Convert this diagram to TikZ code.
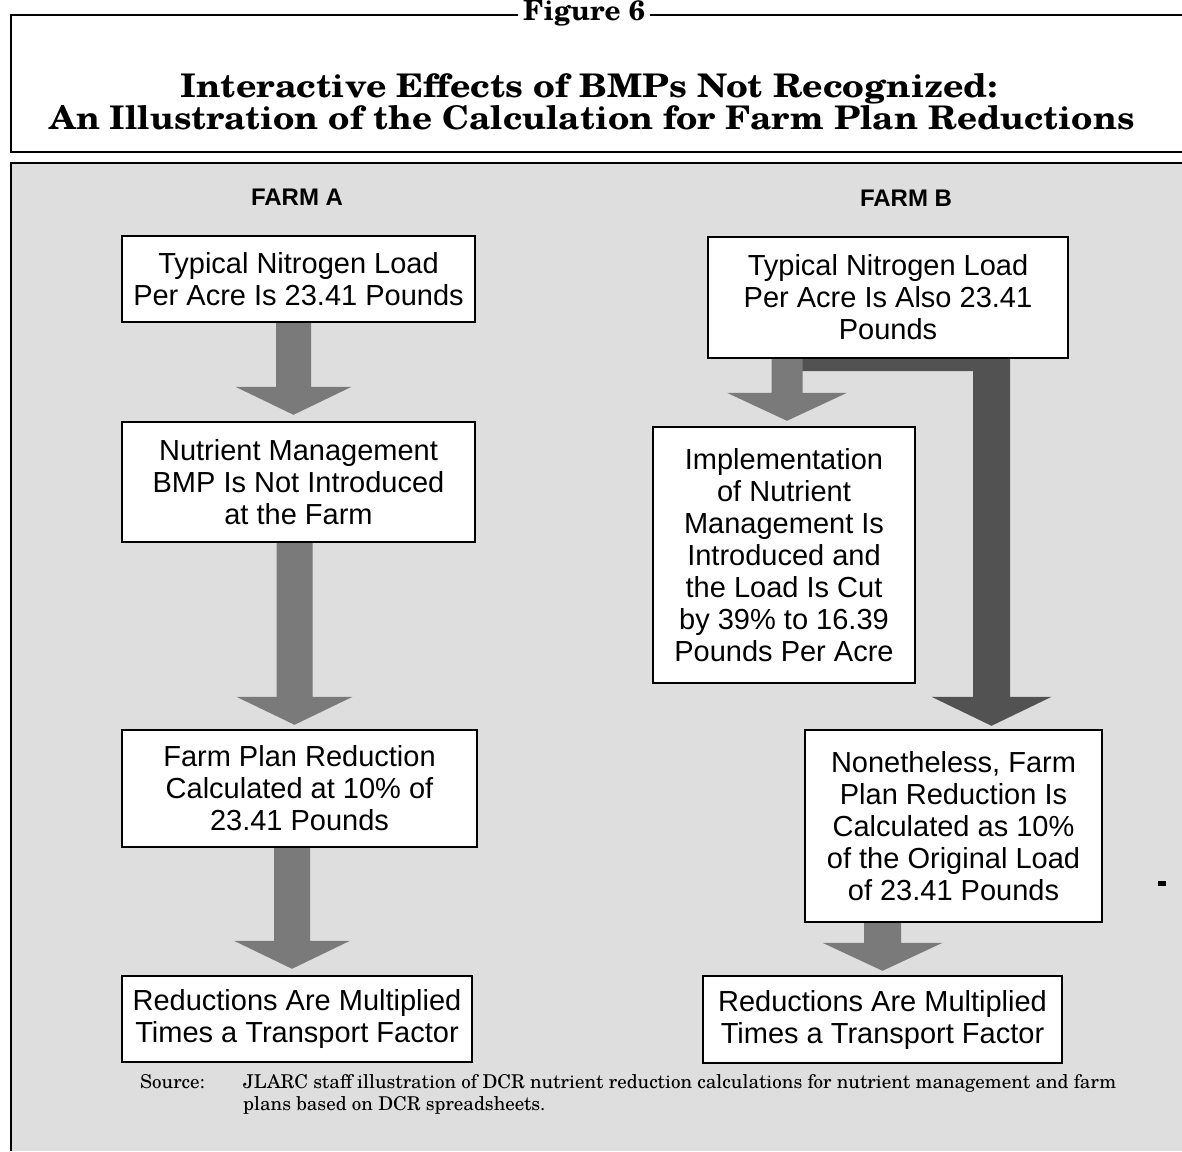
\documentclass[tikz,border=0pt]{standalone}
\usepackage{fontspec}
\setmainfont{Liberation Sans}
\newfontfamily\schola{texgyreschola}[Extension=.otf,UprightFont=*-regular,BoldFont=*-bold]
\usetikzlibrary{calc}
\pgfdeclarelayer{bg}
\pgfsetlayers{bg,main}
\tikzset{
  box/.style={draw=black, line width=2.4pt, fill=white, inner sep=0pt, align=center,
    font=\fontsize{29}{32}\selectfont},
  farmlabel/.style={font=\bfseries\fontsize{24}{26}\selectfont, inner sep=0pt},
  smallarrow/.style={fill=black!52},
  bigarrow/.style={fill=black!68},
  frameline/.style={line width=2.2pt},
  srcfont/.style={font=\schola\fontsize{19}{22}\selectfont, inner sep=0pt},
  titlefont/.style={font=\schola\bfseries\fontsize{32}{34}\selectfont, inner sep=0pt}
}
\newcommand\blockarrow[5]{%
  \fill[#1] let \p1=(#2), \p2=(#3) in
    (\x2-#4,\y1) -- (\x2+#4,\y1) -- (\x2+#4,\y2+28pt) -- (\x2+#5,\y2+28pt)
    -- (\x2,\y2) -- (\x2-#5,\y2+28pt) -- (\x2-#4,\y2+28pt) -- cycle;}
\begin{document}
\begin{tikzpicture}[x=1pt,y=-1pt]
\useasboundingbox (0,0) rectangle (1182,1151);
\begin{pgfonlayer}{bg}
  \fill[white] (0,0) rectangle (1182,1151);
  \fill[black!13] (11,163) rectangle (1182,1151);
\end{pgfonlayer}

% header
\node[font=\schola\bfseries\fontsize{28}{30}\selectfont, inner sep=5pt] (fig) at (584,13) {Figure 6};
\coordinate (tl) at (11,15);
\coordinate (tr) at (1182,15);
\coordinate (bl1) at (11,152);
\coordinate (br1) at (1182,152);
\coordinate (bl2) at (11,163);
\coordinate (br2) at (1182,163);
\coordinate (bot) at (11,1151);
\draw[frameline] (fig.west |- tl) -- (tl) -- (bl1) -- (br1);
\draw[frameline] (fig.east |- tl) -- (tr);
\draw[frameline] (br2) -- (bl2) -- (bot);

\node[titlefont, anchor=base] (t1) at (589,97)
  {\resizebox{817pt}{24pt}{Interactive Effects of BMPs Not Recognized:}};
\node[titlefont, anchor=base] (t2) at (592,129.5)
  {\resizebox{1085pt}{24pt}{An Illustration of the Calculation for Farm Plan Reductions}};

% farm labels
\node[farmlabel] (fa) at (297,197) {FARM A};
\node[farmlabel] (fb) at (906,198) {FARM B};

% Farm A boxes
\node[box, minimum width=353pt, minimum height=86pt] (A1) at (298.5,279)
  {Typical Nitrogen Load\\Per Acre Is 23.41 Pounds};
\node[box, minimum width=353pt, minimum height=120pt] (A2) at (298.5,482)
  {Nutrient Management\\BMP Is Not Introduced\\at the Farm};
\node[box, minimum width=355pt, minimum height=117pt] (A3) at (299.5,788.5)
  {Farm Plan Reduction\\Calculated at 10\% of\\23.41 Pounds};
\node[box, minimum width=350pt, minimum height=86pt] (A4) at (297,1019)
  {Reductions Are Multiplied\\Times a Transport Factor};

% Farm B boxes
\node[box, minimum width=360pt, minimum height=121pt] (B1) at (888,297.5)
  {Typical Nitrogen Load\\Per Acre Is Also 23.41\\Pounds};
\node[box, minimum width=262pt, minimum height=256pt] (B2) at (784,555)
  {Implementation\\of Nutrient\\Management Is\\Introduced and\\the Load Is Cut\\by 39\% to 16.39\\Pounds Per Acre};
\node[box, minimum width=297pt, minimum height=192pt] (B3) at (953.5,826)
  {Nonetheless, Farm\\Plan Reduction Is\\Calculated as 10\%\\of the Original Load\\of 23.41 Pounds};
\node[box, minimum width=359pt, minimum height=87pt] (B4) at (882.5,1019.5)
  {Reductions Are Multiplied\\Times a Transport Factor};

% arrows
\coordinate (bigtip) at ($(B3.north)+(38,-3)$);
\begin{pgfonlayer}{bg}
  \blockarrow{smallarrow}{A1.south}{$(A2.north)+(-5,-6)$}{17.5pt}{58pt}
  \blockarrow{smallarrow}{A2.south}{$(A3.north)+(-5,-4)$}{18pt}{58pt}
  \blockarrow{smallarrow}{A3.south}{$(A4.north)+(-5,-6)$}{18pt}{58pt}
  \fill[bigarrow] let \p1=(B1.south), \p2=(bigtip), \p3=(B2.north) in
    (\x3,\y1) -- (\x2+18.5pt,\y1) -- (\x2+18.5pt,\y2+29pt) -- (\x2+60pt,\y2+29pt)
    -- (\x2,\y2) -- (\x2-60pt,\y2+29pt) -- (\x2-18.5pt,\y2+29pt)
    -- (\x2-18.5pt,\y1-12pt) -- (\x3,\y1-12pt) -- cycle;
  \blockarrow{smallarrow}{B1.south}{$(B2.north)+(3,-5)$}{15.5pt}{60pt}
  \blockarrow{smallarrow}{B3.south}{$(B4.north)+(0,-4)$}{18.5pt}{60pt}
\end{pgfonlayer}

% source note
\node[srcfont, anchor=base west] (src) at (140,1088) {Source:};
\node[srcfont, anchor=base west] (srct1) at (243,1088)
  {JLARC staff illustration of DCR nutrient reduction calculations for nutrient management and farm};
\node[srcfont, anchor=base west] (srct2) at (243,1110) {plans based on DCR spreadsheets.};

% stray mark
\fill (1158,881) rectangle (1166,886);
\end{tikzpicture}
\end{document}
